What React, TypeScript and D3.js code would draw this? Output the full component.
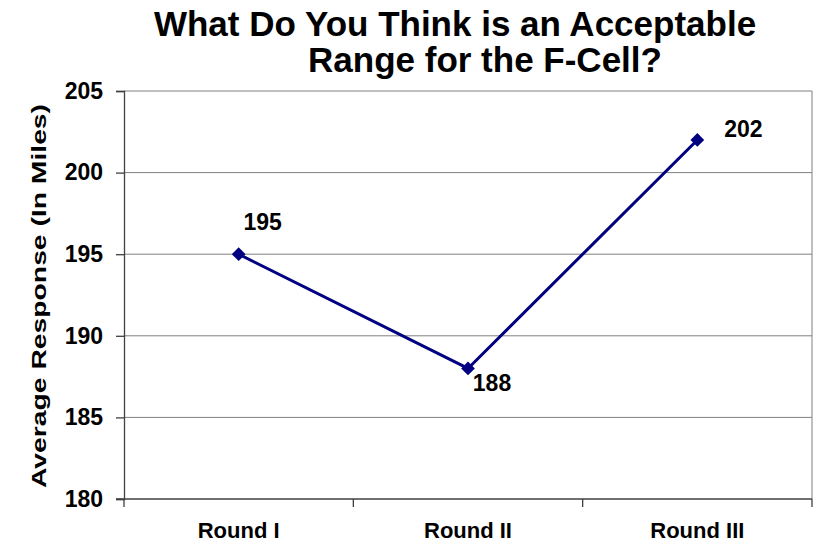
import React, { useEffect, useRef } from "react";
import * as d3 from "d3";

// Survey rounds and the average acceptable range given in each
const categories = ["Round I", "Round II", "Round III"];
const averageMiles = [195, 188, 202];
const yTicks = [180, 185, 190, 195, 200, 205];

const titleLines = ["What Do You Think is an Acceptable", "Range for the F-Cell?"];
const yAxisTitle = "Average Response (In Miles)";

// Nudge for each value label relative to its point
const labelOffsets: [number, number][] = [
  [24, -32],
  [24, 15],
  [46, -11],
];

const W = 815;
const H = 546;
const margin = { left: 124, right: 3, top: 91, bottom: 47 };
const font = "'Liberation Sans', Arial, sans-serif";

export default function App() {
  const ref = useRef<SVGSVGElement>(null);

  useEffect(() => {
    const svg = d3.select(ref.current);
    svg.selectAll("*").remove();

    const x0 = margin.left;
    const x1 = W - margin.right;
    const y0 = H - margin.bottom;
    const y1 = margin.top;

    const x = d3.scaleBand<string>().domain(categories).range([x0, x1]);
    const y = d3.scaleLinear().domain([180, 205]).range([y0, y1]);

    // Title
    const title = svg
      .append("g")
      .attr("font-family", font)
      .attr("font-weight", "bold")
      .attr("font-size", 35)
      .attr("fill", "#000");
    title.append("text").attr("x", 455).attr("y", 36).attr("text-anchor", "middle").text(titleLines[0]);
    title.append("text").attr("x", 485).attr("y", 72).attr("text-anchor", "middle").text(titleLines[1]);

    // Horizontal gridlines
    svg
      .append("g")
      .selectAll("line")
      .data(yTicks.filter((t) => t !== 180))
      .join("line")
      .attr("x1", x0)
      .attr("x2", x1)
      .attr("y1", (d) => y(d))
      .attr("y2", (d) => y(d))
      .attr("stroke", "#808080")
      .attr("stroke-width", 1);

    // Right border of plot area
    svg
      .append("line")
      .attr("x1", x1)
      .attr("x2", x1)
      .attr("y1", y1)
      .attr("y2", y0)
      .attr("stroke", "#808080")
      .attr("stroke-width", 1);

    // Y axis
    const yAxis = svg
      .append("g")
      .attr("transform", `translate(${x0},0)`)
      .call(d3.axisLeft(y).tickValues(yTicks).tickSize(8).tickPadding(13).tickFormat(d3.format("d")));
    yAxis.attr("font-size", null).attr("font-family", null);
    yAxis.select(".domain").attr("stroke", "#404040").attr("stroke-width", 1.3);
    yAxis.selectAll(".tick line").attr("stroke", "#404040").attr("stroke-width", 1.3);
    yAxis
      .selectAll(".tick text")
      .attr("font-family", font)
      .attr("font-weight", "bold")
      .attr("font-size", 23)
      .attr("fill", "#000");

    // X axis with ticks on band boundaries
    const xAxis = svg.append("g").attr("transform", `translate(0,${y0})`);
    xAxis
      .append("line")
      .attr("x1", x0 - 8)
      .attr("x2", x1)
      .attr("stroke", "#404040")
      .attr("stroke-width", 1.6);
    const boundaries = [...categories.map((c) => x(c)!), x1];
    xAxis
      .selectAll("line.tick")
      .data(boundaries)
      .join("line")
      .attr("class", "tick")
      .attr("x1", (d) => d)
      .attr("x2", (d) => d)
      .attr("y1", 0)
      .attr("y2", 8)
      .attr("stroke", "#404040")
      .attr("stroke-width", 1.3);
    xAxis
      .selectAll("text")
      .data(categories)
      .join("text")
      .attr("x", (d) => x(d)! + x.bandwidth() / 2)
      .attr("y", 39)
      .attr("text-anchor", "middle")
      .attr("font-family", font)
      .attr("font-weight", "bold")
      .attr("font-size", 22)
      .attr("fill", "#000")
      .text((d) => d);

    // Y axis title
    svg
      .append("text")
      .attr("transform", `translate(40,${(y0 + y1) / 2 + 1}) rotate(-90)`)
      .attr("text-anchor", "middle")
      .attr("dominant-baseline", "middle")
      .attr("font-family", font)
      .attr("font-weight", "bold")
      .attr("font-size", 21)
      .attr("textLength", 384)
      .attr("lengthAdjust", "spacingAndGlyphs")
      .attr("fill", "#000")
      .text(yAxisTitle);

    // Series line
    const pts = categories.map((c, i) => ({
      cx: x(c)! + x.bandwidth() / 2,
      cy: y(averageMiles[i]),
      v: averageMiles[i],
      off: labelOffsets[i],
    }));
    const line = d3
      .line<(typeof pts)[number]>()
      .x((d) => d.cx)
      .y((d) => d.cy);
    svg
      .append("path")
      .attr("d", line(pts))
      .attr("fill", "none")
      .attr("stroke", "#000080")
      .attr("stroke-width", 3);

    // Diamond markers
    const diamond = d3.symbol(d3.symbolDiamond2, 120);
    svg
      .append("g")
      .selectAll("path")
      .data(pts)
      .join("path")
      .attr("d", diamond()!)
      .attr("transform", (d) => `translate(${d.cx},${d.cy})`)
      .attr("fill", "#000080");

    // Value labels
    svg
      .append("g")
      .selectAll("text")
      .data(pts)
      .join("text")
      .attr("x", (d) => d.cx + d.off[0])
      .attr("y", (d) => d.cy + d.off[1])
      .attr("text-anchor", "middle")
      .attr("dominant-baseline", "central")
      .attr("font-family", font)
      .attr("font-weight", "bold")
      .attr("font-size", 23)
      .attr("fill", "#000")
      .text((d) => String(d.v));
  }, []);

  return (
    <svg
      ref={ref}
      width={W}
      height={H}
      style={{ position: "absolute", left: 0, top: 0, background: "#fff" }}
    />
  );
}
